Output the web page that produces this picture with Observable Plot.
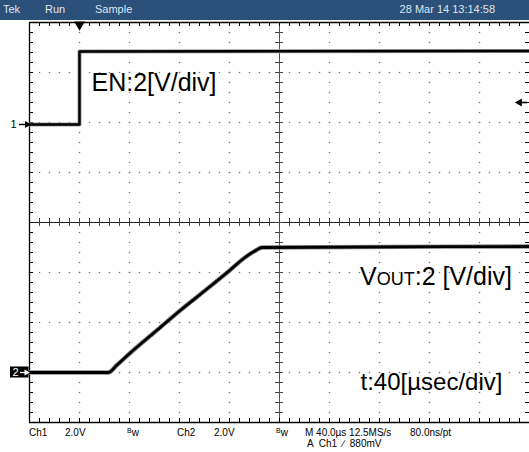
<!DOCTYPE html>
<html>
<head>
<meta charset="utf-8">
<script src="https://cdn.jsdelivr.net/npm/d3@7"></script>
<script src="https://cdn.jsdelivr.net/npm/@observablehq/plot@0.6"></script>
<style>
  html, body { margin: 0; padding: 0; background: #fff; overflow: hidden; }
  #wrap { position: relative; width: 529px; height: 452px; font-family: "Liberation Sans", Arial, sans-serif; }
  #hdr { position: absolute; left: 0; top: 0; width: 529px; height: 20px; background: #2b5079; color: #dfe6ee; font-size: 11px; }
  #hdr span { position: absolute; top: 3px; }
  .ft { position: absolute; font-size: 10px; color: #000; white-space: pre; }
  .bw b { font-weight: normal; font-size: 7px; position: relative; top: -3px; }
  #chart { position: absolute; left: 0; top: 0; }
</style>
</head>
<body>
<div id="wrap">
  <div id="chart"></div>
  <div id="hdr"></div>
  <div id="ftr"></div>
</div>
<script>
// ---- Data ----
// time in microseconds, relative to trigger (trigger at t = 0)
const timeDomain = [-40, 360];          // 10 divisions of 40 µs
const divisionsY = [0, 8];              // 8 vertical divisions
const voltsPerDiv = [2, 2];             // Ch1, Ch2
const channelOffsets = [5.96, 1];       // ground marker position, in divisions
const triggerLevel = 0.88;              // V, on Ch1

// Ch1: EN
const enTime = [-40, 0, 0, 360];
const enVolts = [0, 0, 2.92, 2.94];

// Ch2: VOUT
const voutTime = [-40, 23, 30, 41, 61, 81, 101, 121, 131, 141, 146, 360];
const voutVolts = [0, 0, 0.3, 0.8, 1.65, 2.5, 3.3, 4.12, 4.55, 4.88, 5.0, 5.04];

const headerLabels = ["Tek", "Run", "Sample", "28 Mar 14 13:14:58"];
const footerLine1 = ["Ch1", "2.0V", "Bw", "Ch2", "2.0V", "Bw", "M 40.0\u00b5s 12.5MS/s", "80.0ns/pt"];
const footerLine2 = ["A  Ch1  \u2215  880mV"];
const annotations = ["EN:2[V/div]", "t:40[\u00b5sec/div]"];

// ---- Build ----
const divT = (timeDomain[1] - timeDomain[0]) / 10;   // 40 µs per div
const sub = divT / 5;                                 // subdivision
const px = divT / 50;                                 // µs per pixel
const toDiv = (ch, v) => channelOffsets[ch] + v / voltsPerDiv[ch];

const en = enTime.map((t, i) => ({t, y: toDiv(0, enVolts[i])}));
const vout = voutTime.map((t, i) => ({t, y: toDiv(1, voutVolts[i])}));

const majorX = d3.range(timeDomain[0], timeDomain[1] + 1e-9, divT);
const majorY = d3.range(divisionsY[0], divisionsY[1] + 1e-9, 1);
const subX = d3.range(timeDomain[0], timeDomain[1] + 1e-9, sub);
const subY = d3.range(divisionsY[0], divisionsY[1] + 1e-9, 0.2);
const centerT = (timeDomain[0] + timeDomain[1]) / 2;
const centerY = (divisionsY[0] + divisionsY[1]) / 2;

const dots = [];
for (const x of majorX.slice(1, -1)) for (const y of subY) dots.push({x, y});
for (const y of majorY.slice(1, -1)) for (const x of subX) dots.push({x, y});

const tl = 0.08;            // tick length in divisions (4px)
const tlT = tl * divT;      // same in µs
const TXTFONT = "Liberation Sans, Arial, sans-serif";
const x0 = timeDomain[0], x1 = timeDomain[1];
const trigY = toDiv(0, triggerLevel);

const chart = Plot.plot({
  width: 529, height: 452,
  marginLeft: 29, marginRight: 0, marginTop: 22, marginBottom: 30,
  x: {domain: timeDomain, axis: null},
  y: {domain: divisionsY, axis: null},
  style: {background: "transparent", overflow: "visible"},
  marks: [
    Plot.dot(dots, {x: "x", y: "y", r: 0.8, fill: "#777", stroke: null}),
    // center cross
    Plot.ruleX([centerT], {stroke: "#555", strokeWidth: 1}),
    Plot.ruleY([centerY], {stroke: "#222", strokeWidth: 1.2}),
    Plot.ruleX(subX, {x: d => d, y1: centerY - tl, y2: centerY + tl, stroke: "#444"}),
    Plot.ruleY(subY, {y: d => d, x1: centerT - tlT, x2: centerT + tlT, stroke: "#444"}),
    // borders
    Plot.ruleX([x0], {stroke: "#000", strokeWidth: 1.3}),
    Plot.ruleY([divisionsY[1]], {stroke: "#000", strokeWidth: 1.3}),
    Plot.ruleY([divisionsY[0]], {stroke: "#000", strokeWidth: 1.3}),
    Plot.ruleX(subX, {x: d => d, y1: divisionsY[1], y2: divisionsY[1] - tl, stroke: "#000"}),
    Plot.ruleX(subX, {x: d => d, y1: divisionsY[0], y2: divisionsY[0] + tl, stroke: "#000"}),
    Plot.ruleY(subY, {y: d => d, x1: x0, x2: x0 + tlT, stroke: "#000"}),
    Plot.ruleY(subY, {y: d => d, x1: x1 - tlT, x2: x1, stroke: "#000"}),
    // traces
    Plot.line(en, {x: "t", y: "y", stroke: "#999", strokeWidth: 4}),
    Plot.line(en, {x: "t", y: "y", stroke: "#000", strokeWidth: 2.4}),
    Plot.line(vout, {x: "t", y: "y", stroke: "#888", strokeWidth: 4.4, curve: "monotone-x"}),
    Plot.line(vout, {x: "t", y: "y", stroke: "#000", strokeWidth: 2.8, curve: "monotone-x"}),
    // trigger position marker
    Plot.dot([0], {x: d => d, y: divisionsY[1], dy: 2, symbol: "triangle", rotate: 180, r: 4, fill: "#000", stroke: null}),
    // trigger level arrow (pointing left, at right edge)
    Plot.ruleY([trigY], {x1: x1 - 9 * px, x2: x1 - 2 * px, stroke: "#000", strokeWidth: 1.6}),
    Plot.dot([trigY], {x: x1 - 10 * px, y: d => d, symbol: "triangle", rotate: -90, r: 3, fill: "#000", stroke: null}),
    // channel 1 marker
    Plot.text(["1"], {x: x0, y: channelOffsets[0], dx: -13, textAnchor: "end", fontSize: 11, fill: "#000", fontFamily: TXTFONT}),
    Plot.ruleY([channelOffsets[0]], {x1: x0 - 10 * px, x2: x0 - 3 * px, stroke: "#000", strokeWidth: 1.4}),
    Plot.dot([channelOffsets[0]], {x: x0 - 2.5 * px, y: d => d, symbol: "triangle", rotate: 90, r: 2.6, fill: "#000", stroke: null}),
    // channel 2 marker (boxed)
    Plot.rect([1], {x1: x0 - 19 * px, x2: x0 - 0.5 * px, y1: channelOffsets[1] - 0.11, y2: channelOffsets[1] + 0.11, fill: "#000"}),
    Plot.text(["2"], {x: x0, y: channelOffsets[1], dx: -11, textAnchor: "end", fontSize: 11, fill: "#fff", fontFamily: TXTFONT}),
    Plot.ruleY([channelOffsets[1]], {x1: x0 - 9 * px, x2: x0 - 4 * px, stroke: "#fff", strokeWidth: 1.3}),
    Plot.dot([channelOffsets[1]], {x: x0 - 3.2 * px, y: d => d, symbol: "triangle", rotate: 90, r: 2.3, fill: "#fff", stroke: null}),
    // annotations
    Plot.text([annotations[0]], {x: x0, y: toDiv(0, 2.92), dx: 62, dy: 22, textAnchor: "start", lineAnchor: "top", fontSize: 25, fill: "#000", fontFamily: TXTFONT}),
    Plot.text([annotations[1]], {x: centerT, y: channelOffsets[1], dx: 81, dy: 10, textAnchor: "start", lineAnchor: "middle", fontSize: 24, fill: "#000", fontFamily: TXTFONT})
  ]
});

// VOUT annotation with small caps
const svg = d3.select(chart);
const t = svg.append("text")
  .attr("x", 360).attr("y", 285)
  .attr("text-anchor", "start")
  .attr("font-family", TXTFONT)
  .attr("font-size", 25).attr("fill", "#000");
t.append("tspan").text("V");
t.append("tspan").attr("font-size", 18).text("OUT");
t.append("tspan").text(":2 [V/div]");

document.getElementById("chart").appendChild(chart);

// header
const hdr = document.getElementById("hdr");
const hx = [3, 45, 95, null];
headerLabels.forEach((s, i) => {
  const sp = document.createElement("span");
  sp.textContent = s;
  if (hx[i] === null) sp.style.right = "34px"; else sp.style.left = hx[i] + "px";
  hdr.appendChild(sp);
});

// footer
const ftr = document.getElementById("ftr");
const fx = [29, 65, 127, 177, 214, 276, 305, 410];
footerLine1.forEach((s, i) => {
  const d = document.createElement("div");
  d.className = "ft";
  d.style.left = fx[i] + "px"; d.style.top = "427px";
  if (s === "Bw") { d.classList.add("bw"); d.innerHTML = "<b>B</b>w"; }
  else d.textContent = s;
  ftr.appendChild(d);
});
footerLine2.forEach(s => {
  const d = document.createElement("div");
  d.className = "ft";
  d.style.left = "307px"; d.style.top = "438px";
  d.textContent = s;
  ftr.appendChild(d);
});
</script>
</body>
</html>
